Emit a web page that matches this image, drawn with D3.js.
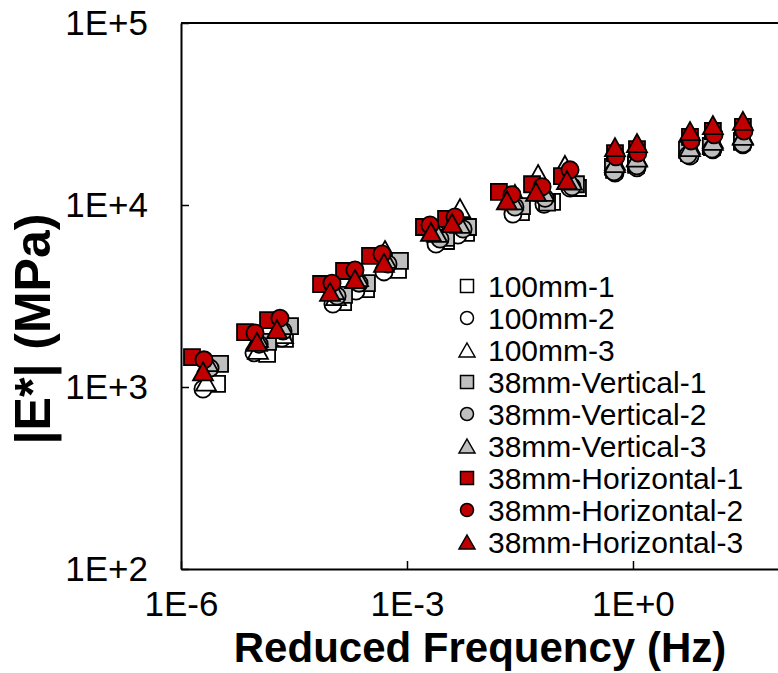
<!DOCTYPE html>
<html>
<head>
<meta charset="utf-8">
<script src="https://cdn.jsdelivr.net/npm/d3@7"></script>
<style>
  html, body { margin: 0; padding: 0; background: #fff; }
  svg { display: block; }
  text { font-family: "Liberation Sans", Arial, sans-serif; fill: #000; }
</style>
</head>
<body>
<svg id="chart" width="778" height="673"></svg>
<script>
// ---------------- data ----------------
const seriesNames = ["100mm-1", "100mm-2", "100mm-3",
  "38mm-Vertical-1", "38mm-Vertical-2", "38mm-Vertical-3",
  "38mm-Horizontal-1", "38mm-Horizontal-2", "38mm-Horizontal-3"];
const seriesShapes = ["square", "circle", "triangle", "square", "circle", "triangle", "square", "circle", "triangle"];
const seriesFills = ["#FFFFFF", "#FFFFFF", "#FFFFFF", "#BFBFBF", "#BFBFBF", "#BFBFBF", "#C00000", "#C00000", "#C00000"];

// reduced frequency (Hz)
const freq100mm1 = [3.01e-6, 1.39e-5, 2.40e-5, 1.42e-4, 2.86e-4, 7.60e-4, 3.30e-3, 6.08e-3, 3.26e-2, 8.43e-2, 0.186, 0.560, 1.10, 5.55, 11.2, 28.0];
const freq100mm2 = [1.96e-6, 9.31e-6, 2.19e-5, 1.04e-4, 2.10e-4, 4.95e-4, 2.43e-3, 4.75e-3, 2.55e-2, 6.59e-2, 0.146, 0.577, 1.13, 5.71, 11.5, 28.8];
const freq100mm3 = [2.15e-6, 1.05e-5, 2.26e-5, 1.14e-4, 2.31e-4, 5.11e-4, 2.66e-3, 5.06e-3, 2.71e-2, 5.50e-2, 0.125, 0.577, 1.13, 5.71, 11.5, 28.8];
const freqV1 = [3.30e-6, 1.43e-5, 2.80e-5, 1.46e-4, 2.94e-4, 8.07e-4, 3.30e-3, 6.46e-3, 3.36e-2, 7.23e-2, 0.175, 0.542, 1.10, 5.21, 10.8, 28.0];
const freqV2 = [2.43e-6, 1.09e-5, 2.26e-5, 1.18e-4, 2.31e-4, 5.60e-4, 2.74e-3, 5.55e-3, 2.71e-2, 6.81e-2, 0.155, 0.560, 1.13, 5.37, 11.2, 28.8];
const freqV3 = [2.28e-6, 1.05e-5, 2.19e-5, 1.08e-4, 2.24e-4, 5.26e-4, 2.51e-3, 5.06e-3, 2.55e-2, 6.59e-2, 0.155, 0.577, 1.13, 5.71, 11.5, 28.8];
const freqH1 = [1.40e-6, 7.08e-6, 1.43e-5, 7.23e-5, 1.46e-4, 3.23e-4, 1.68e-3, 3.30e-3, 1.66e-2, 4.57e-2, 0.114, 0.577, 1.13, 5.71, 11.5, 28.8];
const freqH2 = [2.02e-6, 9.62e-6, 2.06e-5, 1.01e-4, 2.04e-4, 4.66e-4, 2.02e-3, 4.34e-3, 2.48e-2, 6.21e-2, 0.146, 0.594, 1.16, 5.89, 11.9, 29.7];
const freqH3 = [1.96e-6, 1.02e-5, 1.88e-5, 9.51e-5, 2.04e-4, 4.95e-4, 2.08e-3, 3.96e-3, 2.12e-2, 5.16e-2, 0.133, 0.577, 1.13, 5.71, 11.5, 28.8];

// |E*| (MPa)
const mod100mm1 = [1040, 1520, 1840, 2930, 3450, 4400, 6340, 7020, 9140, 10400, 12400, 15600, 16600, 19300, 20800, 22200];
const mod100mm2 = [975, 1540, 1860, 2860, 3370, 4290, 6110, 6840, 8910, 10100, 12400, 15000, 16000, 18600, 20100, 21400];
const mod100mm3 = [1070, 1600, 1950, 3160, 3920, 5660, 7190, 9620, 11500, 14800, 16600, 17500, 18400, 21400, 23100, 24300];
const modV1 = [1340, 1770, 2160, 3210, 3720, 4930, 6590, 7570, 9860, 10300, 13000, 16200, 17000, 20100, 21100, 22500];
const modV2 = [1270, 1720, 2030, 3160, 3720, 4740, 6500, 7380, 9750, 10900, 12600, 15200, 16400, 18800, 20300, 21700];
const modV3 = [1370, 1860, 2190, 3410, 4020, 5060, 7020, 7870, 10600, 11800, 13600, 17000, 18200, 20800, 22500, 24000];
const modH1 = [1460, 2000, 2330, 3680, 4340, 5250, 7570, 8380, 11800, 13000, 14400, 19300, 20300, 23700, 25500, 26900];
const modH2 = [1410, 1980, 2390, 3720, 4390, 5380, 7760, 8590, 11400, 12600, 15600, 18400, 19300, 22500, 24300, 25500];
const modH3 = [1220, 1770, 2080, 3330, 3920, 4810, 7110, 7960, 10600, 11800, 13700, 20800, 21900, 25500, 27500, 29000];

const xTickValues = [1e-6, 1e-3, 1e0];
const yTickValues = [1e2, 1e3, 1e4, 1e5];
const xTitle = "Reduced Frequency (Hz)";
const yTitle = "|E*| (MPa)";

const freqs = [freq100mm1, freq100mm2, freq100mm3, freqV1, freqV2, freqV3, freqH1, freqH2, freqH3];
const mods = [mod100mm1, mod100mm2, mod100mm3, modV1, modV2, modV3, modH1, modH2, modH3];

// ---------------- layout ----------------
const plotLeft = 181, plotTop = 23, plotBottom = 569;
const decadeX = 75.33;
const plotRight = plotLeft + 9 * decadeX;

const svg = d3.select("#chart");
const x = d3.scaleLog().domain([1e-6, 1e3]).range([plotLeft, plotRight]);
const y = d3.scaleLog().domain([1e2, 1e5]).range([plotBottom, plotTop]);

const fmt = v => {
  const e = Math.round(Math.log10(v));
  return "1E" + (e >= 0 ? "+" : "-") + Math.abs(e);
};

function markerPath(shape, s) {
  if (shape === "square") {
    const h = s.sq / 2;
    return `M${-h},${-h}H${h}V${h}H${-h}Z`;
  } else if (shape === "circle") {
    const r = s.r;
    return `M${r},0A${r},${r} 0 1,1 ${-r},0A${r},${r} 0 1,1 ${r},0Z`;
  } else {
    const w = s.tw / 2, h = s.th / 2;
    return `M0,${-h}L${w},${h}L${-w},${h}Z`;
  }
}
const plotSize = { sq: 16, r: 8.6, tw: 20, th: 18 };
const legendSize = { sq: 13, r: 6.5, tw: 16, th: 14 };

// ---------------- axes ----------------
const yAxis = d3.axisLeft(y).tickValues(yTickValues).tickFormat(fmt)
  .tickSizeInner(-8).tickSizeOuter(0).tickPadding(33);
const gy = svg.append("g").attr("transform", `translate(${plotLeft},0)`).call(yAxis);
gy.selectAll("text").style("font-size", "35px");

const xAxis = d3.axisBottom(x).tickValues(xTickValues).tickFormat(fmt)
  .tickSizeInner(-8).tickSizeOuter(0).tickPadding(22);
const gx = svg.append("g").attr("transform", `translate(0,${plotBottom})`).call(xAxis);
gx.selectAll("text").style("font-size", "35px");

[gx, gy].forEach(g => {
  g.selectAll("path.domain").attr("stroke", "#000").attr("stroke-width", 2);
  g.selectAll(".tick line").attr("stroke", "#000").attr("stroke-width", 1.5);
  g.selectAll("text").attr("fill", "#000").style("font-family", '"Liberation Sans", Arial, sans-serif');
});

// top and right frame
svg.append("line").attr("x1", plotLeft).attr("x2", plotRight).attr("y1", plotTop).attr("y2", plotTop)
  .attr("stroke", "#000").attr("stroke-width", 2);
svg.append("line").attr("x1", plotRight).attr("x2", plotRight).attr("y1", plotTop).attr("y2", plotBottom)
  .attr("stroke", "#000").attr("stroke-width", 2);

// ---------------- points ----------------
seriesNames.forEach((name, i) => {
  const pts = freqs[i].map((f, j) => ({ f, e: mods[i][j] }));
  svg.append("g").attr("class", "series")
    .selectAll("path").data(pts).join("path")
    .attr("transform", d => `translate(${x(d.f)},${y(d.e)})`)
    .attr("d", markerPath(seriesShapes[i], plotSize))
    .attr("fill", seriesFills[i])
    .attr("stroke", "#000")
    .attr("stroke-width", 1.8);
});

// ---------------- titles ----------------
svg.append("text").attr("x", 480).attr("y", 662).attr("text-anchor", "middle")
  .style("font-size", "42px").style("font-weight", "bold").text(xTitle);
svg.append("text").attr("transform", "translate(50,329) rotate(-90)").attr("text-anchor", "middle")
  .style("font-size", "50px").style("font-weight", "bold").text(yTitle);

// ---------------- legend ----------------
const legendX = 467, legendY0 = 286, legendStep = 32;
const lg = svg.append("g");
seriesNames.forEach((name, i) => {
  const cy = legendY0 + i * legendStep;
  lg.append("path").attr("transform", `translate(${legendX},${cy})`)
    .attr("d", markerPath(seriesShapes[i], legendSize))
    .attr("fill", seriesFills[i]).attr("stroke", "#000").attr("stroke-width", 1.5);
  lg.append("text").attr("x", 488).attr("y", cy + 10.5).style("font-size", "30px").text(name);
});
</script>
</body>
</html>
